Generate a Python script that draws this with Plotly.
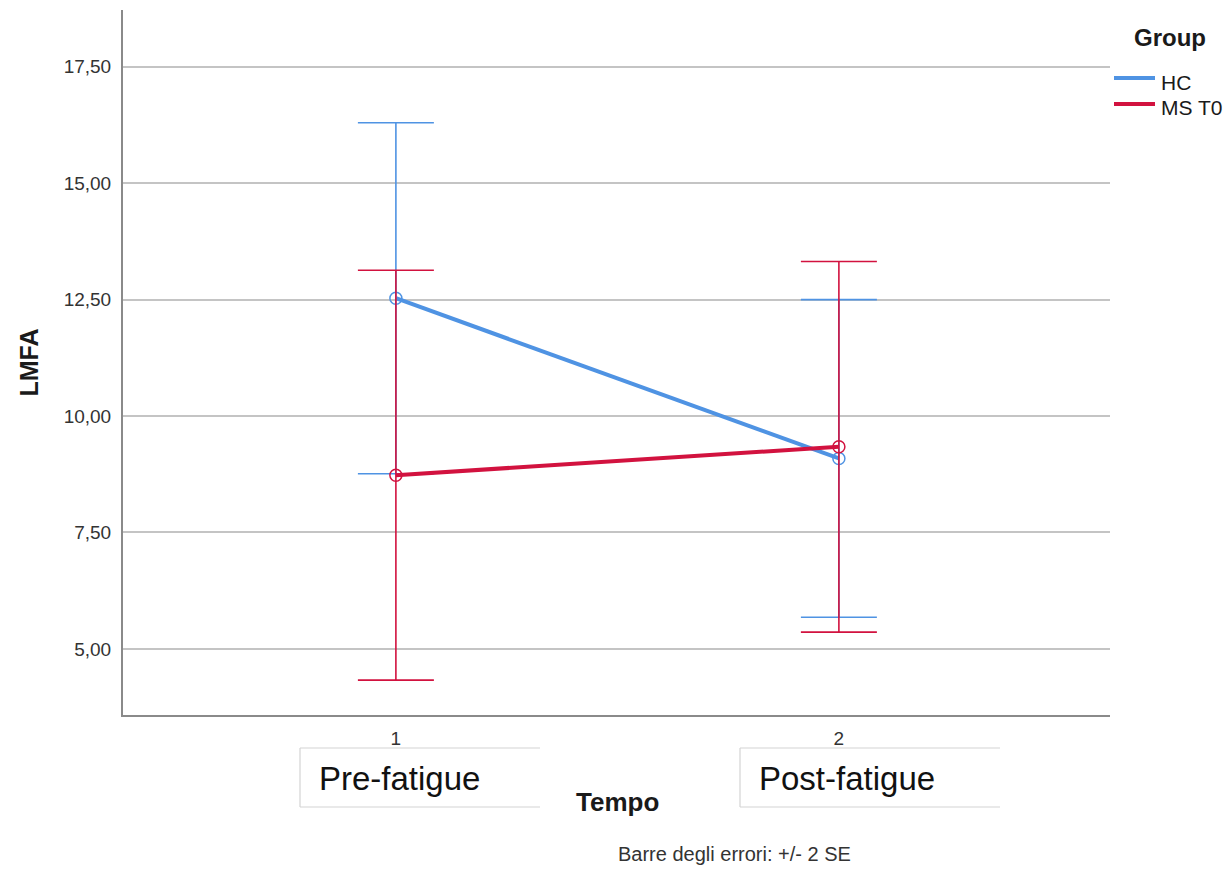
import plotly.graph_objects as go

# Estimated marginal means of LMFA by time point and group, with +/- 2 SE
tempo = [1, 2]
hc_mean = [12.53, 9.09]
hc_err = [3.77, 3.41]
ms_mean = [8.73, 9.34]
ms_err = [4.40, 3.98]

group_names = ["HC", "MS T0"]
group_colors = ["#4f93e3", "#d2123f"]

y_tickvals = [5.0, 7.5, 10.0, 12.5, 15.0, 17.5]
y_ticktext = ["5,00", "7,50", "10,00", "12,50", "15,00", "17,50"]
x_ticktext = ["1", "2"]
phase_labels = ["Pre-fatigue", "Post-fatigue"]

FONT = "Liberation Sans, Arial, sans-serif"

W, H = 1230, 869
L, R, T, B = 123, 120, 10, 154
pw, ph = W - L - R, H - T - B


def px_x(x):
    """Pixel column -> paper x."""
    return (x - L) / pw


def px_y(y):
    """Pixel row -> paper y."""
    return (H - B - y) / ph


fig = go.Figure()

for name, color, mean, err in zip(group_names, group_colors,
                                   [hc_mean, ms_mean], [hc_err, ms_err]):
    fig.add_trace(go.Scatter(
        x=tempo, y=mean, mode="lines+markers", name=name,
        showlegend=False,
        line=dict(color=color, width=4),
        marker=dict(symbol="circle-open", size=12, color=color,
                    line=dict(width=1.5, color=color)),
        error_y=dict(type="data", array=err, visible=True,
                     color=color, thickness=1.6, width=38),
    ))

# Group legend: title, line swatches and labels
fig.add_annotation(xref="paper", yref="paper", x=px_x(1132), y=px_y(38),
                   xanchor="left", yanchor="middle", showarrow=False,
                   text="<b>Group</b>", font=dict(size=24, color="#1a1a1a", family=FONT))
for i, (name, color) in enumerate(zip(group_names, group_colors)):
    yy = 78 + 26 * i
    fig.add_shape(type="line", xref="paper", yref="paper",
                  x0=px_x(1114), x1=px_x(1155), y0=px_y(yy), y1=px_y(yy),
                  line=dict(color=color, width=4), layer="above")
    fig.add_annotation(xref="paper", yref="paper", x=px_x(1159), y=px_y(yy + 4),
                       xanchor="left", yanchor="middle", showarrow=False,
                       text=name, font=dict(size=21, color="#1a1a1a", family=FONT))

# White label boxes placed over the time axis
box_spans = [(300, 540), (740, 1000)]
for (x0, x1), lab in zip(box_spans, phase_labels):
    fx0, fx1 = px_x(x0), px_x(x1)
    fy0, fy1 = px_y(807), px_y(748)
    fig.add_shape(type="rect", xref="paper", yref="paper",
                  x0=fx0, x1=fx1, y0=fy0, y1=fy1,
                  fillcolor="white", line=dict(width=0), layer="above")
    for sx0, sy0, sx1, sy1 in [(fx0, fy0, fx0, fy1), (fx0, fy1, fx1, fy1),
                               (fx0, fy0, fx1, fy0)]:
        fig.add_shape(type="line", xref="paper", yref="paper",
                      x0=sx0, y0=sy0, x1=sx1, y1=sy1,
                      line=dict(color="#d4d4d4", width=1.2), layer="above")
    fig.add_annotation(xref="paper", yref="paper",
                       x=px_x(x0 + 17), y=px_y(779),
                       xanchor="left", yanchor="middle", showarrow=False,
                       text=lab, font=dict(size=33, color="#111", family=FONT))

fig.add_annotation(xref="paper", yref="paper", x=px_x(617), y=px_y(802),
                   xanchor="center", yanchor="middle", showarrow=False,
                   text="<b>Tempo</b>",
                   font=dict(size=26, color="#1a1a1a", family=FONT))
fig.add_annotation(xref="paper", yref="paper", x=px_x(734), y=px_y(854),
                   xanchor="center", yanchor="middle", showarrow=False,
                   text="Barre degli errori: +/- 2 SE",
                   font=dict(size=20, color="#333", family=FONT))

fig.update_layout(
    width=W, height=H,
    margin=dict(l=L, r=R, t=T, b=B),
    paper_bgcolor="white", plot_bgcolor="white",
    font=dict(family=FONT, color="#333"),
    showlegend=False,
)

fig.update_xaxes(
    range=[0.384, 2.612], tickvals=tempo, ticktext=x_ticktext,
    showgrid=False, zeroline=False,
    showline=True, linecolor="#8a8a8a", linewidth=2,
    ticks="", ticklabelstandoff=5, tickfont=dict(size=19, color="#333"),
)
fig.update_yaxes(
    range=[3.58, 18.72], tickvals=y_tickvals, ticktext=y_ticktext,
    showgrid=True, gridcolor="#c4c4c4", gridwidth=2, zeroline=False,
    showline=True, linecolor="#8a8a8a", linewidth=2,
    ticks="", ticklabelstandoff=6, tickfont=dict(size=19, color="#333"),
    title=dict(text="<b>LMFA</b>", font=dict(size=25, color="#1a1a1a"), standoff=18),
)

fig.write_html("out.html")
